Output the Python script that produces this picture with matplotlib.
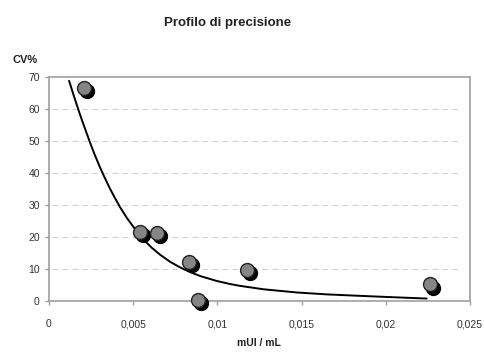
import matplotlib
matplotlib.use("Agg")
from matplotlib import pyplot as plt
from matplotlib import transforms

plt.rcParams['font.family'] = ['Liberation Sans', 'DejaVu Sans']

# measured points (concentration, CV%)
conc = [0.00208, 0.0054, 0.00639, 0.00833, 0.00887, 0.01177, 0.02262]
cv = [66.5, 21.5, 21.3, 12.3, 0.3, 9.8, 5.2]

# trend curve
curve_x = [0.0012, 0.0015, 0.0018, 0.0021, 0.00243, 0.0027, 0.003, 0.0033,
           0.00362, 0.0039, 0.00422, 0.0046, 0.005, 0.0054, 0.0057, 0.0061,
           0.0066, 0.00719, 0.0078, 0.00837, 0.009, 0.00996, 0.0107, 0.0113,
           0.01273, 0.01471, 0.0165, 0.01866, 0.0205, 0.02243]
curve_y = [68.8, 63.8, 59.0, 54.5, 49.7, 46.0, 42.2, 38.7,
           35.2, 32.4, 29.4, 26.2, 23.3, 20.6, 18.8, 16.7,
           14.5, 12.3, 10.5, 9.1, 7.8, 6.3, 5.4, 4.8,
           3.7, 2.7, 2.1, 1.6, 1.2, 0.8]

xticks = [0, 0.005, 0.01, 0.015, 0.02, 0.025]
xtick_labels = ["0", "0,005", "0,01", "0,015", "0,02", "0,025"]
yticks = [0, 10, 20, 30, 40, 50, 60, 70]

fig = plt.figure(figsize=(4.84, 3.53), dpi=100)
ax = fig.add_axes([0.101, 0.147, 0.870, 0.635])

ax.set_xlim(0, 0.025)
ax.set_ylim(0, 70)

for y in yticks[1:-1]:
    ax.plot([0.0002, 0.0245], [y, y], color="#d2d2d2", lw=0.8, ls=(0, (5, 4)), zorder=0)

ax.plot(curve_x, curve_y, color="black", lw=1.4, zorder=2,
        solid_capstyle="round", solid_joinstyle="round")

# black shadow behind each marker
shadow = transforms.offset_copy(ax.transData, fig=fig, x=2.3, y=-2.3, units='points')
ax.plot(conc, cv, 'o', ms=10, color="black", mec="black", transform=shadow,
        zorder=3, clip_on=False)
ax.plot(conc, cv, 'o', ms=10, color="#858585", mec="#222222", mew=1.0,
        zorder=4, clip_on=False)

for s in ax.spines.values():
    s.set_color("#a0a0a0")
    s.set_linewidth(1.2)

ax.set_xticks(xticks)
ax.set_xticklabels(xtick_labels)
ax.set_yticks(yticks)
ax.tick_params(axis='both', labelsize=7.5, colors="#a0a0a0", labelcolor="#333333",
               length=3, width=1)
ax.tick_params(axis='x', pad=10)

fig.text(0.47, 0.935, "Profilo di precisione", ha="center", va="center",
         fontsize=9.5, fontweight="bold", color="#222222")
fig.text(0.052, 0.83, "CV%", ha="center", va="center",
         fontsize=8, fontweight="bold", color="#222222")
fig.text(0.535, 0.028, "mUI / mL", ha="center", va="center",
         fontsize=7.5, fontweight="bold", color="#222222")

fig.savefig("out.png", dpi=100)
